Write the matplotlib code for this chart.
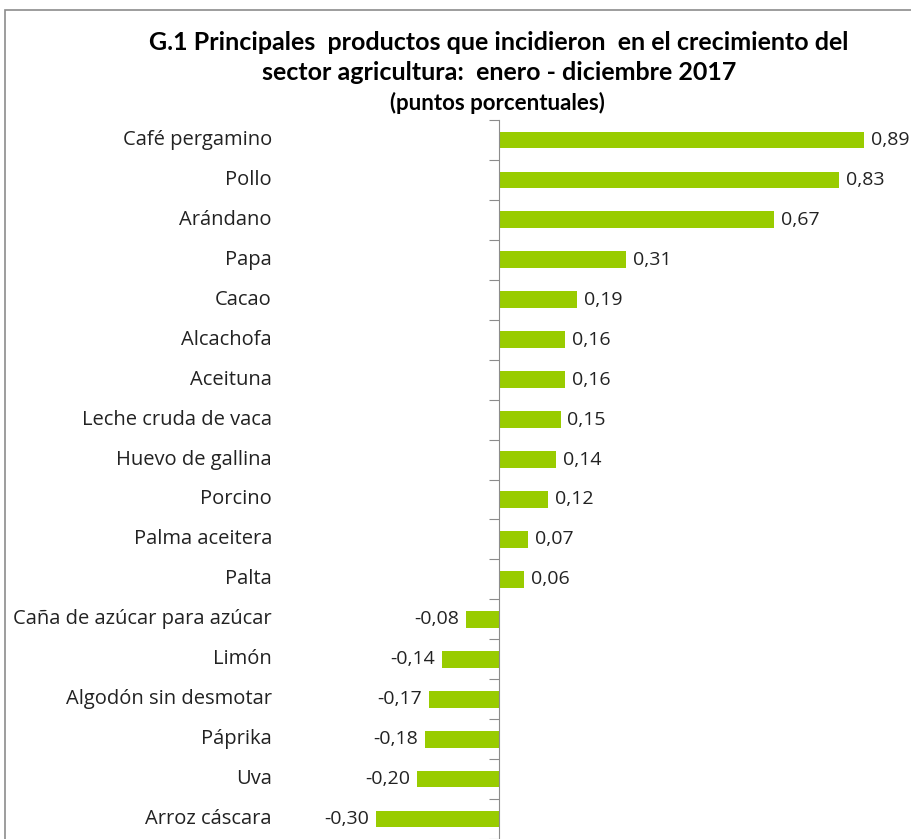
import matplotlib.pyplot as plt
import matplotlib.transforms as mtransforms
from matplotlib.patches import Rectangle

productos = ["Café pergamino", "Pollo", "Arándano", "Papa", "Cacao", "Alcachofa",
             "Aceituna", "Leche cruda de vaca", "Huevo de gallina", "Porcino",
             "Palma aceitera", "Palta", "Caña de azúcar para azúcar", "Limón",
             "Algodón sin desmotar", "Páprika", "Uva", "Arroz cáscara"]
valores = [0.89, 0.83, 0.67, 0.31, 0.19, 0.16, 0.16, 0.15, 0.14, 0.12,
           0.07, 0.06, -0.08, -0.14, -0.17, -0.18, -0.20, -0.30]

W, H = 912, 839
fig = plt.figure(figsize=(W / 100, H / 100), dpi=100)
plt.rcParams['font.family'] = ['Open Sans', 'DejaVu Sans']

# gray frame (only top-left part visible)
fig.patches.append(Rectangle((5 / W, -0.05), 1.2, 1 - 10 / H + 0.05,
                             transform=fig.transFigure, fill=False,
                             edgecolor='#8c8c8c', lw=1.2))

px_per_unit = 410
zero_px = 499
xmin, xmax = -0.32, 0.92
left = (zero_px + xmin * px_per_unit) / W
width = (xmax - xmin) * px_per_unit / W
ax = fig.add_axes([left, 1 - 839 / H, width, (839 - 120) / H])

n = len(productos)
y = list(range(n))
ax.barh(y, valores, height=0.42, color='#99CC00')
ax.set_xlim(xmin, xmax)
ax.set_ylim(n - 0.5, -0.5)

for s in ['top', 'right', 'bottom']:
    ax.spines[s].set_visible(False)
ax.spines['left'].set_position(('data', 0))
ax.spines['left'].set_color('#8c8c8c')
ax.set_xticks([])
ax.set_yticks([i - 0.5 for i in range(n + 1)])
ax.set_yticklabels([])
ax.tick_params(axis='y', direction='out', length=7, color='#8c8c8c')

trans = mtransforms.blended_transform_factory(fig.transFigure, ax.transData)
for i, (p, v) in enumerate(zip(productos, valores)):
    ax.text(272 / W, i, p, transform=trans, ha='right', va='center',
            fontsize=14.5, color='#222222')
    lab = f"{v:.2f}".replace('.', ',')
    if v >= 0:
        ax.annotate(lab, (v, i), xytext=(5, 0), textcoords='offset points',
                    ha='left', va='center', fontsize=14, color='#222222',
                    annotation_clip=False)
    else:
        ax.annotate(lab, (v, i), xytext=(-5, 0), textcoords='offset points',
                    ha='right', va='center', fontsize=14, color='#222222',
                    annotation_clip=False)

fig.text(499 / W, 1 - 42 / H, "G.1 Principales  productos que incidieron  en el crecimiento del",
         ha='center', va='center', fontsize=18, fontweight='bold', family='Lato')
fig.text(499 / W, 1 - 72 / H, "sector agricultura:  enero - diciembre 2017",
         ha='center', va='center', fontsize=18, fontweight='bold', family='Lato')
fig.text(497 / W, 1 - 103 / H, "(puntos porcentuales)",
         ha='center', va='center', fontsize=16, fontweight='bold', family='Lato')

fig.savefig('out.png', dpi=100)
